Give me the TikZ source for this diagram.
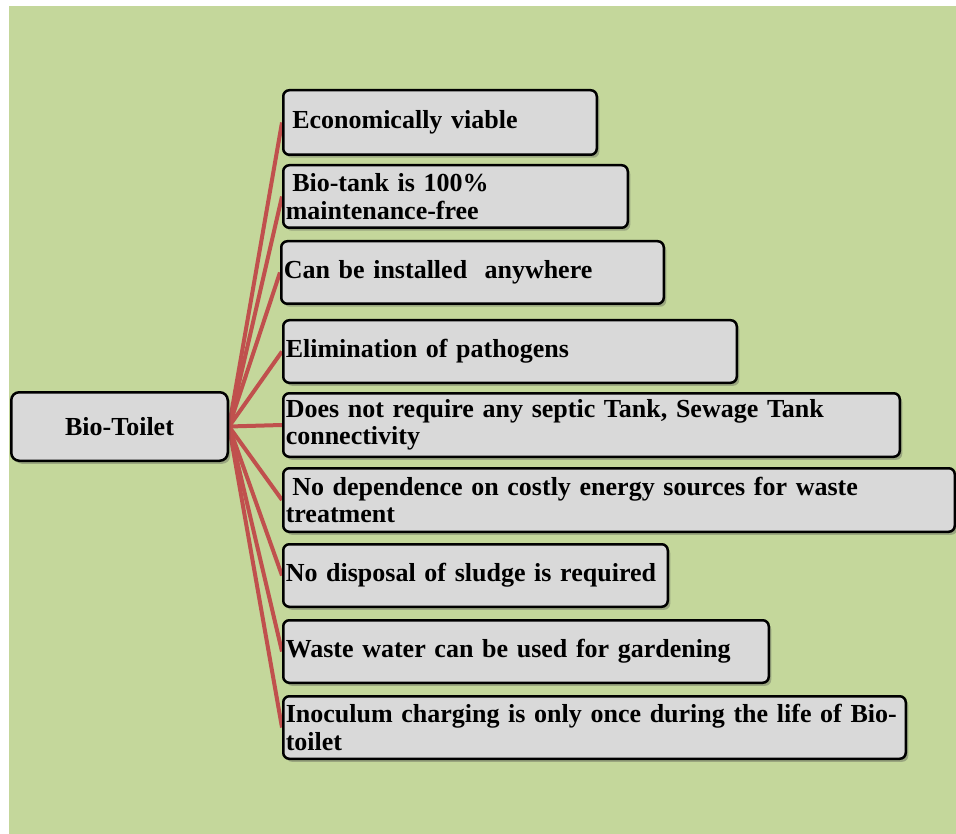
\documentclass[tikz,border=0pt]{standalone}
\usepackage{fontspec}
\setmainfont{Liberation Serif}
\usetikzlibrary{shadows}
\definecolor{bggreen}{HTML}{C4D79B}
\definecolor{boxgray}{HTML}{D9D9D9}
\definecolor{linkred}{HTML}{C0504D}
\newcommand\boxfont{\bfseries\fontsize{26}{27.5}\selectfont\spaceskip 0.22em\relax}
\pgfdeclarelayer{bgl}
\pgfdeclarelayer{links}
\pgfsetlayers{bgl,links,main}
\tikzset{
  item/.style={draw=black, line width=2.5pt, fill=boxgray, rounded corners=6pt,
    anchor=north west, align=left, inner xsep=2.5pt, inner ysep=0pt,
    font=\boxfont,
    drop shadow={shadow xshift=2.5pt, shadow yshift=-3pt, opacity=0.35, fill=black!70}},
  hub/.style={item, rounded corners=8pt, align=center},
  link/.style={draw=linkred, line width=4pt}
}
\begin{document}
\begin{tikzpicture}[x=1pt,y=-1pt]
\begin{pgfonlayer}{bgl}
\fill[white] (0,0) rectangle (956,834);
\fill[bggreen] (9,6) rectangle (956,834);
\end{pgfonlayer}
\useasboundingbox (0,0) rectangle (956,834);

\node[hub, minimum width=216.5pt, minimum height=68.5pt] (bt) at (10,391) {Bio-Toilet};

\node[item, text width=308.5pt, minimum height=64.5pt] (b1) at (282,89) {\hspace*{0.25em}Economically viable};
\node[item, text width=339.5pt, minimum height=62.5pt] (b2) at (282,164) {\hspace*{0.25em}Bio-tank is 100\%\\maintenance-free};
\node[item, text width=377.5pt, minimum height=62.5pt] (b3) at (280,240) {Can be installed\ \ anywhere};
\node[item, text width=448.5pt, minimum height=62.5pt] (b4) at (282,319) {Elimination of pathogens};
\node[item, text width=611.5pt, minimum height=63.5pt] (b5) at (282,392) {Does not require any septic Tank, Sewage Tank\\connectivity};
\node[item, text width=666.5pt, minimum height=63.5pt] (b6) at (282,467) {\hspace*{0.25em}No dependence on costly energy sources for waste\\treatment};
\node[item, text width=379.5pt, minimum height=62.5pt] (b7) at (282,543) {No disposal of sludge is required};
\node[item, text width=480.5pt, minimum height=62.5pt] (b8) at (282,619) {Waste water can be used for gardening};
\node[item, text width=617.5pt, minimum height=62.5pt] (b9) at (282,695) {\mbox{Inoculum charging is only once during the life of Bio-}\\toilet};

\begin{pgfonlayer}{links}
\foreach \b in {b1,b2,b3,b4,b5,b6,b7,b8,b9}
  \draw[link] (bt.east) -- (\b.west);
\end{pgfonlayer}
\end{tikzpicture}
\end{document}
